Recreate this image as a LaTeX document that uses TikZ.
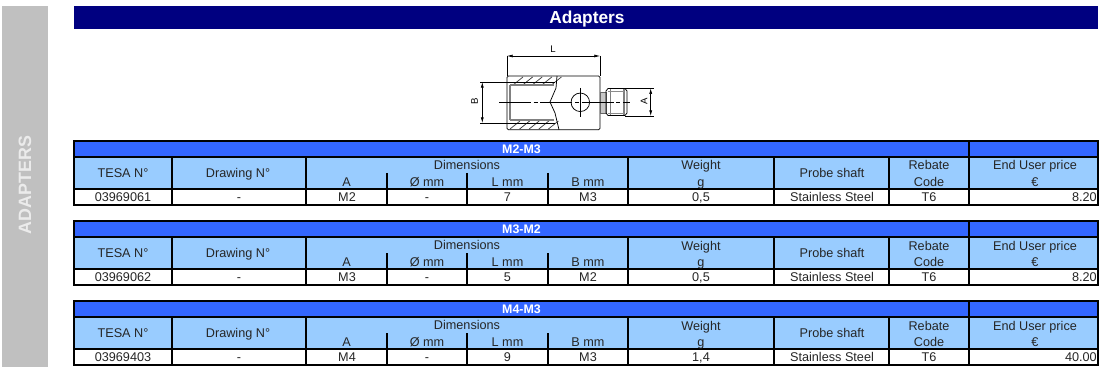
\documentclass[tikz,border=0pt]{standalone}
\usepackage{fontspec}
\setmainfont{Liberation Sans}
\usetikzlibrary{arrows.meta}
\definecolor{navyband}{RGB}{0,0,128}
\definecolor{blueband}{RGB}{51,102,255}
\definecolor{headblue}{RGB}{153,204,255}
\definecolor{sidegray}{RGB}{192,192,192}
\tikzset{
  x=0.75pt,y=-0.75pt,
  cell/.style={inner sep=0pt,font=\fontsize{9.5}{11}\selectfont,text=black!85,anchor=base},
  bandlabel/.style={inner sep=0pt,font=\fontsize{9.3}{11}\selectfont\bfseries,text=white,anchor=base},
  gridline/.style={draw=black,line width=1pt},
  draft/.style={draw=black,line width=0.55pt},
  hatchline/.style={draw=black!75,line width=0.55pt},
  soft/.style={draw=black!50,line width=0.8pt},
  dimline/.style={draw=black,line width=0.45pt,{Latex[length=4.2pt,width=2.2pt]}-{Latex[length=4.2pt,width=2.2pt]}},
  dimtext/.style={inner sep=0pt,font=\fontsize{7.2}{8}\selectfont,text=black},
}
\newcommand{\adaptertable}[9]{%
\begin{scope}[shift={(0,#1)}]
  \fill[blueband] (74,0) rectangle (1098,16);
  \fill[headblue] (74,16) rectangle (1098,48);
  \fill[white] (74,48) rectangle (1098,64);
  \draw[gridline] (74,0) rectangle (1098,64);
  \draw[gridline] (74,16) -- (1098,16);
  \draw[gridline] (74,48) -- (1098,48);
  \draw[gridline] (969,0) -- (969,64);
  \foreach \cx in {172,306,628,774,889} {\draw[gridline] (\cx,16) -- (\cx,64);}
  \foreach \cx in {387,467,548} {\draw[gridline] (\cx,32) -- (\cx,64);}
  \node[bandlabel] (#2band) at (521.5,12.5) {#3};
  \node[cell] (#2tesa) at (123,36) {TESA N°};
  \node[cell] (#2draw) at (238,36) {Drawing N°};
  \node[cell] (#2dim) at (467,28.3) {Dimensions};
  \node[cell] (#2a) at (346.5,45) {A};
  \node[cell] (#2o) at (427,45) {Ø mm};
  \node[cell] (#2l) at (507.5,45) {L mm};
  \node[cell] (#2b) at (588,45) {B mm};
  \node[cell] (#2wt) at (701,29) {Weight};
  \node[cell] (#2g) at (701,45) {g};
  \node[cell] (#2ps) at (832,36) {Probe shaft};
  \node[cell] (#2rb) at (929,29) {Rebate};
  \node[cell] (#2cd) at (929,45.5) {Code};
  \node[cell] (#2eu) at (1035,29) {End User price};
  \node[cell] (#2eur) at (1035,45.5) {€};
  \node[cell] (#2vt) at (123,60) {#4};
  \node[cell] (#2vd) at (239,60) {-};
  \node[cell] (#2va) at (347,60) {#5};
  \node[cell] (#2vo) at (427,60) {-};
  \node[cell] (#2vl) at (507.5,60) {#6};
  \node[cell] (#2vb) at (588,60) {#7};
  \node[cell] (#2vw) at (701,60) {#8};
  \node[cell] (#2vp) at (832,60) {Stainless Steel};
  \node[cell] (#2vr) at (929,60) {T6};
  \node[cell,anchor=base east] (#2ve) at (1097,60) {#9};
\end{scope}}
\begin{document}
\begin{tikzpicture}
\useasboundingbox (0,0) rectangle (1099,367);
\fill[white] (0,0) rectangle (1099,367);
\fill[sidegray] (2,6) rectangle (48,367);
\node[rotate=90,inner sep=0pt,font=\fontsize{13.4}{15}\selectfont\bfseries,text=white!92!black] (side) at (25,185) {ADAPTERS};
\fill[navyband] (74,6) rectangle (1098,29);
\node[inner sep=0pt,anchor=base,font=\fontsize{13}{15}\selectfont\bfseries,text=white] (title) at (587,24) {Adapters};

% drawing: hatching
\foreach \hx in {0,1,2,3,4} {
  \draw[hatchline] (513+\hx*9.6,85) -- (523+\hx*9.6,77);
  \draw[hatchline] (510+\hx*9.6,129) -- (520+\hx*9.6,121);
}
% body and bore
\draw[draft,rounded corners=1pt] (507,76) -- (600,76) -- (600,129.7) -- (507,129.7) -- cycle;
\draw[soft] (510,85) -- (554,85);
\draw[soft] (510,120) -- (554,120);
\draw[soft] (510,85) -- (510,120);
\draw[draft] (480,82) -- (555,82);
\draw[draft] (480,123) -- (555,123);
\draw[draft] (557,76) -- (556,88) -- (550,102) -- (555,113) -- (559,129.7);
\draw[draft] (507,56) -- (507,76);
\draw[draft] (600,56) -- (600,76);
% shaft
\draw[draw=black!60,line width=0.5pt,fill=black!22] (600,92) -- (606,92) -- (606,113) -- (600,113) -- cycle;
\draw[draft] (606,91) -- (608,88.5) -- (625,88.5) -- (627,91) -- (627,113) -- (625,115.5) -- (608,115.5) -- (606,113) -- cycle;
\draw[soft] (610.5,89) -- (610.5,115);
\draw[soft] (624,89) -- (624,115);
\draw[draw=black!45,line width=0.6pt] (608,91.5) -- (624,91.5);
\draw[draw=black!45,line width=0.6pt] (608,113) -- (624,113);
\draw[draft] (625,88.3) -- (654,88.3);
\draw[draft] (625,116) -- (654,116);
% centre line and hole
\coordinate (cl) at (499,102.3);
\coordinate (cr) at (630,102.3);
\draw[draft,dash pattern=on 24pt off 2pt on 3pt off 2pt] (cl) -- (cr);
\node[circle,draft,minimum size=13.9pt,inner sep=0pt] (hole) at (580.3,102.3) {};
\draw[draft] (580.3,88) -- (580.3,117);
% dimensions
\coordinate (La) at (507,56); \coordinate (Lb) at (600,56);
\coordinate (Ba) at (482.3,82); \coordinate (Bb) at (482.3,123);
\coordinate (Aa) at (650.7,88.3); \coordinate (Ab) at (650.7,116);
\draw[dimline] (La) -- (Lb);
\draw[dimline] (Ba) -- (Bb);
\draw[dimline] (Aa) -- (Ab);
\node[dimtext] (dimL) at (553,49.5) {L};
\node[dimtext,rotate=90] (dimB) at (474.5,101) {B};
\node[dimtext,rotate=90] (dimA) at (644,101.7) {A};

\adaptertable{141}{p}{M2-M3}{03969061}{M2}{7}{M3}{0,5}{8.20}
\adaptertable{221}{q}{M3-M2}{03969062}{M3}{5}{M2}{0,5}{8.20}
\adaptertable{301}{r}{M4-M3}{03969403}{M4}{9}{M3}{1,4}{40.00}
\end{tikzpicture}
\end{document}
